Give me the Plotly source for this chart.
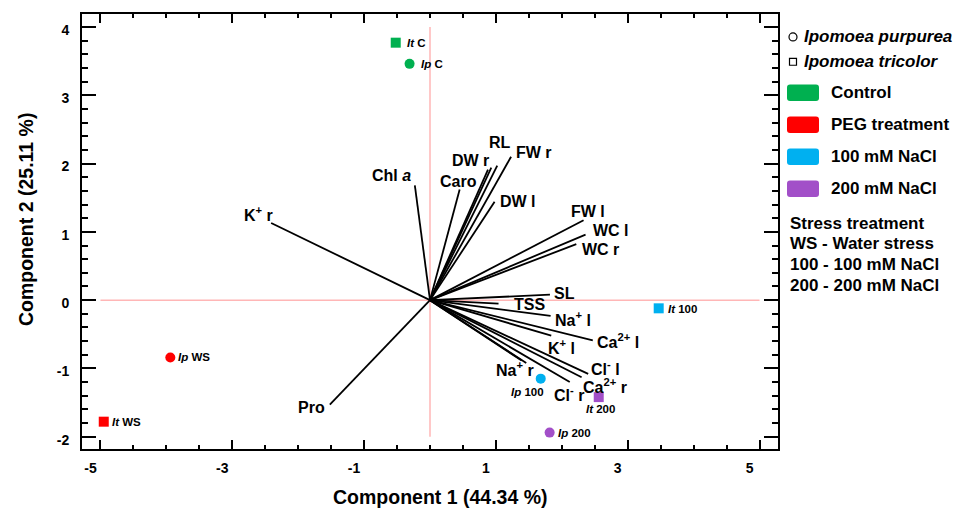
import plotly.graph_objects as go

# ---------------- data ----------------
# loadings (variable vectors)
var_labels = ["K<sup>+</sup> r", "Chl <i>a</i>", "Caro", "DW r", "", "RL", "FW r", "DW l",
              "FW l", "WC l", "WC r", "SL", "TSS", "Na<sup>+</sup> l", "Ca<sup>2+</sup> l",
              "K<sup>+</sup> l", "Cl<sup>-</sup> l", "Ca<sup>2+</sup> r", "Cl<sup>-</sup> r",
              "", "Na<sup>+</sup> r", "Pro"]
var_x = [-2.41, -0.23, 0.45, 0.88, 0.93, 1.02, 1.23, 0.98,
         2.33, 2.36, 2.22, 1.82, 1.04, 1.83, 2.47,
         1.84, 2.40, 2.30, 2.12,
         1.39, 1.46, -1.52]
var_y = [1.13, 1.68, 1.62, 1.91, 1.94, 1.97, 2.10, 1.44,
         1.17, 0.96, 0.82, 0.08, -0.05, -0.23, -0.59,
         -0.52, -1.08, -1.13, -1.20,
         -0.885, -0.92, -1.53]

# scores (samples)
sample_species = ["It", "Ip", "Ip", "It", "It", "Ip", "It", "Ip"]
sample_treat = ["C", "C", "WS", "WS", "100", "100", "200", "200"]
sample_x = [-0.52, -0.31, -3.94, -4.95, 3.47, 1.68, 2.56, 1.815]
sample_y = [3.77, 3.46, -0.84, -1.78, -0.12, -1.15, -1.42, -1.94]

treat_names = ["Control", "PEG treatment", "100 mM NaCl", "200 mM NaCl"]
treat_keys = ["C", "WS", "100", "200"]
x_ticks = [-5, -3, -1, 1, 3, 5]
y_ticks = [-2, -1, 0, 1, 2, 3, 4]
note_lines = ["Stress treatment", "WS - Water stress", "100 - 100 mM NaCl", "200 - 200 mM NaCl"]

# ---------------- styles ----------------
treat_colors = {"C": "#00B050", "WS": "#FF0000", "100": "#00B0F0", "200": "#A24FC8"}
species_symbol = {"It": "square", "Ip": "circle"}
# label pixel offsets (dx right, dy up) relative to vector tips
var_off = [(-13, 9), (-23, 10), (-1, 8), (-18, 9), (0, 0), (3, 23), (23, 4), (23, 0),
           (4, 9), (25, 4), (24, -5), (15, 1), (31, -1), (22, -3), (25, -1),
           (10, -11), (17, 6), (23, -9), (-1, -12),
           (0, 0), (-11, -6), (-18, -3)]
# sample label offsets (xanchor, dx, dy)
samp_off = [("left", 9, 0), ("left", 9, 0), ("left", 6, 0), ("left", 6, 0),
            ("left", 7, -1), ("center", -13, -13), ("center", 2, -12), ("left", 6, 0)]

FONT = "Arial, 'Liberation Sans', Helvetica, sans-serif"

L, R, T, B = 82, 182, 12, 61
W, H = 960, 510
PW, PH = W - L - R, H - T - B
XR = [-5.28, 5.28]
YR = [-2.18, 4.19]

def px(xp):
    return (xp - L) / PW

def py(yp):
    return (H - B - yp) / PH

fig = go.Figure()

# loading lines
lx, ly = [], []
for x, y in zip(var_x, var_y):
    lx += [0, x, None]
    ly += [0, y, None]
fig.add_trace(go.Scatter(x=lx, y=ly, mode="lines", line=dict(color="black", width=1.8),
                         hoverinfo="skip", showlegend=False))

# sample points
for sp, tr, x, y in zip(sample_species, sample_treat, sample_x, sample_y):
    fig.add_trace(go.Scatter(x=[x], y=[y], mode="markers",
                             marker=dict(symbol=species_symbol[sp], size=10,
                                         color=treat_colors[tr], line=dict(width=0)),
                             showlegend=False))

# empty trace to activate the top/right tick axes
fig.add_trace(go.Scatter(x=[None], y=[None], xaxis="x2", yaxis="y2", mode="markers",
                         showlegend=False, hoverinfo="skip"))

annotations = []
for lab, x, y, (dx, dy) in zip(var_labels, var_x, var_y, var_off):
    if not lab:
        continue
    annotations.append(dict(x=x, y=y, xref="x", yref="y", text=lab, showarrow=False,
                            xshift=dx, yshift=dy, xanchor="center", yanchor="middle",
                            font=dict(family=FONT, size=16, color="black", weight="bold")))

for sp, tr, x, y, (anc, dx, dy) in zip(sample_species, sample_treat, sample_x, sample_y, samp_off):
    annotations.append(dict(x=x, y=y, xref="x", yref="y", text=f"<i>{sp}</i> {tr}",
                            showarrow=False, xshift=dx, yshift=dy, xanchor=anc, yanchor="middle",
                            font=dict(family=FONT, size=11.5, color="black", weight="bold")))

# axis titles
annotations.append(dict(x=px(440), y=py(497), xref="paper", yref="paper",
                        text="Component 1 (44.34 %)", showarrow=False,
                        xanchor="center", yanchor="middle",
                        font=dict(family=FONT, size=19.5, color="black", weight="bold")))
annotations.append(dict(x=px(26), y=py(219), xref="paper", yref="paper",
                        text="Component 2 (25.11 %)", showarrow=False, textangle=-90,
                        xanchor="center", yanchor="middle",
                        font=dict(family=FONT, size=19.5, color="black", weight="bold")))

shapes = []
# reference cross lines
shapes.append(dict(type="line", x0=x_ticks[0], x1=x_ticks[-1], y0=0, y1=0, xref="x", yref="y",
                   line=dict(color="#FFB6B6", width=1.5), layer="below"))
shapes.append(dict(type="line", x0=0, x1=0, y0=y_ticks[0], y1=y_ticks[-1], xref="x", yref="y",
                   line=dict(color="#FFB6B6", width=1.5), layer="below"))

# legend: species symbols
shapes.append(dict(type="circle", xref="paper", yref="paper",
                   x0=px(789), x1=px(797), y0=py(39), y1=py(31),
                   line=dict(color="black", width=1.2)))
shapes.append(dict(type="rect", xref="paper", yref="paper",
                   x0=px(789.5), x1=px(796.5), y0=py(63.5), y1=py(56.5),
                   line=dict(color="black", width=1.2)))
annotations.append(dict(x=px(802), y=py(35), xref="paper", yref="paper", xanchor="left",
                        yanchor="middle", showarrow=False, text="<i>Ipomoea purpurea</i>",
                        font=dict(family=FONT, size=17, color="black", weight="bold")))
annotations.append(dict(x=px(802), y=py(60), xref="paper", yref="paper", xanchor="left",
                        yanchor="middle", showarrow=False, text="<i>Ipomoea tricolor</i>",
                        font=dict(family=FONT, size=17, color="black", weight="bold")))

def rounded(x0, y0, x1, y1, r):
    # pixel coords -> paper path with rounded corners
    X = lambda v: px(v)
    Y = lambda v: py(v)
    return (f"M {X(x0+r)},{Y(y0)} L {X(x1-r)},{Y(y0)} Q {X(x1)},{Y(y0)} {X(x1)},{Y(y0+r)} "
            f"L {X(x1)},{Y(y1-r)} Q {X(x1)},{Y(y1)} {X(x1-r)},{Y(y1)} "
            f"L {X(x0+r)},{Y(y1)} Q {X(x0)},{Y(y1)} {X(x0)},{Y(y1-r)} "
            f"L {X(x0)},{Y(y0+r)} Q {X(x0)},{Y(y0)} {X(x0+r)},{Y(y0)} Z")

for i, (name, key) in enumerate(zip(treat_names, treat_keys)):
    cy = 91 + i * 32.2
    shapes.append(dict(type="path", xref="paper", yref="paper",
                       path=rounded(787, cy - 8.3, 819, cy + 8.3, 3),
                       fillcolor=treat_colors[key], line=dict(width=0)))
    annotations.append(dict(x=px(829), y=py(cy), xref="paper", yref="paper", xanchor="left",
                            yanchor="middle", showarrow=False, text=name,
                            font=dict(family=FONT, size=17, color="black", weight="bold")))

for i, line in enumerate(note_lines):
    annotations.append(dict(x=px(788), y=py(222 + i * 21), xref="paper", yref="paper",
                            xanchor="left", yanchor="middle", showarrow=False, text=line,
                            font=dict(family=FONT, size=17, color="black", weight="bold")))

fig.update_layout(
    width=W, height=H,
    margin=dict(l=L, r=R, t=T, b=B, pad=0),
    plot_bgcolor="white", paper_bgcolor="white",
    showlegend=False,
    shapes=shapes, annotations=annotations,
    font=dict(family=FONT, color="black"),
)

xminor = dict(dtick=0.5, tick0=0, ticks="inside", ticklen=4, tickwidth=1.5,
              tickcolor="black", showgrid=False)
yminor = dict(dtick=0.2, tick0=0, ticks="inside", ticklen=6, tickwidth=1.5,
              tickcolor="black", showgrid=False)

fig.update_layout(
    xaxis=dict(range=XR, tickvals=x_ticks, ticktext=[str(v) for v in x_ticks],
               ticks="inside", ticklen=9, tickwidth=2, tickcolor="black", minor=xminor,
               showline=True, linewidth=2, linecolor="black", mirror=True,
               showgrid=False, zeroline=False, ticklabelshift=-10, ticklabelstandoff=5,
               tickfont=dict(family=FONT, size=14, color="black", weight="bold")),
    yaxis=dict(range=YR, tickvals=y_ticks, ticktext=[str(v) for v in y_ticks],
               ticks="inside", ticklen=14, tickwidth=2, tickcolor="black", minor=yminor,
               showline=True, linewidth=2, linecolor="black", mirror=True,
               showgrid=False, zeroline=False, ticklabelshift=3, ticklabelstandoff=8,
               tickfont=dict(family=FONT, size=14, color="black", weight="bold")),
    xaxis2=dict(range=XR, overlaying="x", side="top", anchor="y2", tickvals=x_ticks,
                ticks="inside", ticklen=9, tickwidth=2, tickcolor="black", minor=xminor,
                showticklabels=False, showline=False, showgrid=False, zeroline=False),
    yaxis2=dict(range=YR, overlaying="y", side="right", anchor="x2", tickvals=y_ticks,
                ticks="inside", ticklen=14, tickwidth=2, tickcolor="black", minor=yminor,
                showticklabels=False, showline=False, showgrid=False, zeroline=False),
)

fig.write_html("out.html")
